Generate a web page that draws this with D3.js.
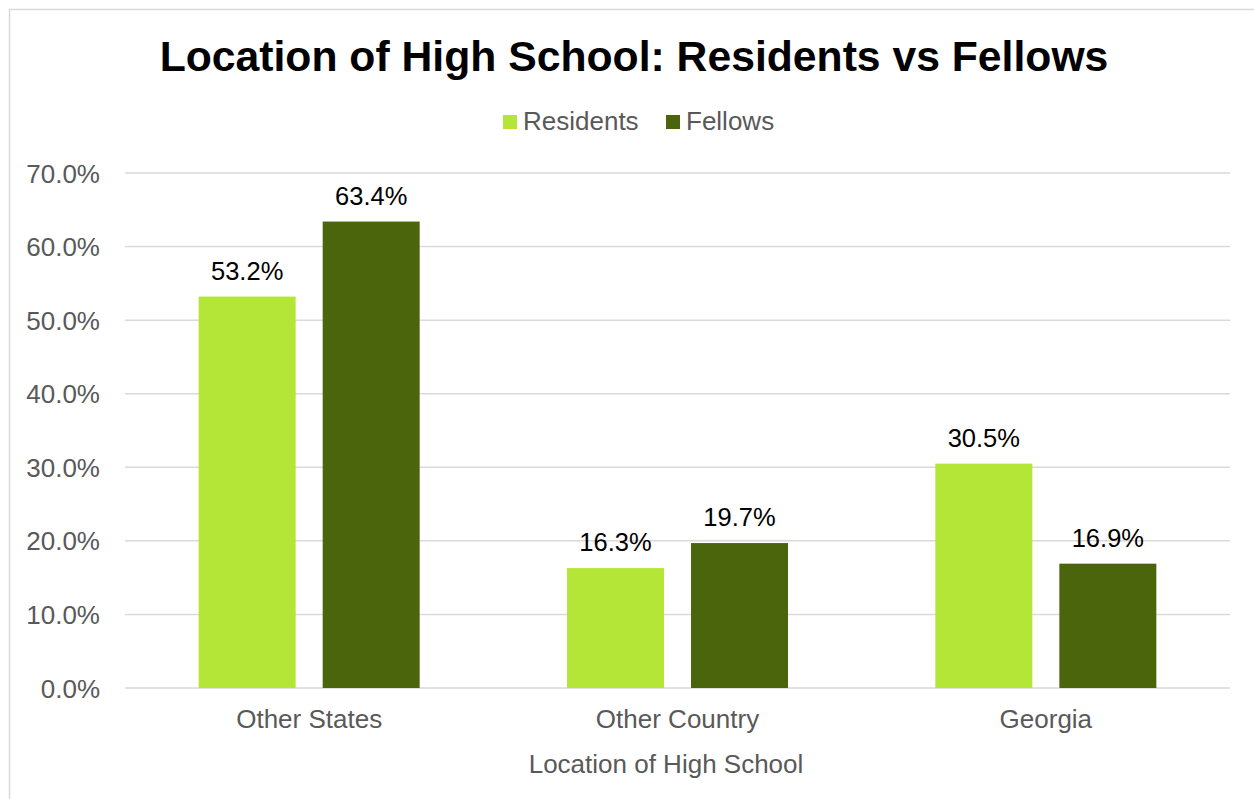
<!DOCTYPE html>
<html lang="en">
    <head>
        <meta charset="utf-8">
        <title>Location of High School: Residents vs Fellows</title>
        <script src="https://d3js.org/d3.v7.min.js"></script>
        <style type="text/css">
            body {
                margin: 0;
                background: white;
            }
            text {
                font-family: "Liberation Sans", Arial, sans-serif;
            }
            .tick text {
                font-size: 26px;
                fill: #595959;
            }
        </style>
    </head>
    <body>
        <svg width="1254" height="799"></svg>
        <script type="text/javascript">

            const categories = ["Other States", "Other Country", "Georgia"];
            const seriesNames = ["Residents", "Fellows"];
            const residents = [53.2, 16.3, 30.5];
            const fellows = [63.4, 19.7, 16.9];
            const yTicks = [0, 10, 20, 30, 40, 50, 60, 70];

            const colors = {Residents: "#b3e636", Fellows: "#4a650b"};

            const svg = d3.select("svg");

            // chart frame
            svg.append("rect")
               .attr("x", 9.5).attr("y", 9.5)
               .attr("width", 1260).attr("height", 800)
               .attr("fill", "white")
               .attr("stroke", "#d9d9d9")
               .attr("stroke-width", 1.5);

            const plotLeft = 125, plotRight = 1230, plotTop = 173, plotBottom = 688;

            const x0 = d3.scaleBand()
                         .domain(categories)
                         .range([plotLeft, plotRight])
                         .padding(0);

            const x1 = d3.scaleBand()
                         .domain(seriesNames)
                         .range([x0.bandwidth() * 0.2, x0.bandwidth() * 0.8])
                         .paddingInner(0.218);

            const y = d3.scaleLinear()
                        .domain([0, 70])
                        .range([plotBottom, plotTop]);

            // gridlines
            svg.append("g")
               .selectAll("line")
               .data(yTicks)
               .enter()
               .append("line")
               .attr("x1", plotLeft).attr("x2", plotRight)
               .attr("y1", d => y(d)).attr("y2", d => y(d))
               .attr("stroke", "#d9d9d9")
               .attr("stroke-width", 1.5);

            // y axis labels
            const yAxis = svg.append("g")
               .attr("transform", `translate(${plotLeft - 10},0)`)
               .call(d3.axisLeft(y).tickValues(yTicks).tickSize(0).tickPadding(15)
                     .tickFormat(d => d.toFixed(1) + "%"));
            yAxis.select(".domain").remove();
            yAxis.selectAll(".tick text").attr("dy", "0.35em");

            // x axis labels
            const xAxis = svg.append("g")
               .attr("transform", `translate(0,${plotBottom})`)
               .call(d3.axisBottom(x0).tickSize(0).tickPadding(22));
            xAxis.select(".domain").remove();

            const rows = categories.map((c, i) => ({
                cat: c,
                vals: [{s: "Residents", v: residents[i]}, {s: "Fellows", v: fellows[i]}]
            }));

            const groups = svg.append("g")
               .selectAll("g")
               .data(rows)
               .enter()
               .append("g")
               .attr("transform", d => `translate(${x0(d.cat)},0)`);

            groups.selectAll("rect")
                  .data(d => d.vals)
                  .enter()
                  .append("rect")
                  .attr("x", d => x1(d.s))
                  .attr("width", x1.bandwidth())
                  .attr("y", d => y(d.v))
                  .attr("height", d => y(0) - y(d.v))
                  .attr("fill", d => colors[d.s]);

            groups.selectAll("text.val")
                  .data(d => d.vals)
                  .enter()
                  .append("text")
                  .attr("class", "val")
                  .attr("x", d => x1(d.s) + x1.bandwidth() / 2)
                  .attr("y", d => y(d.v) - 17)
                  .attr("text-anchor", "middle")
                  .style("font-size", "25.5px")
                  .style("fill", "black")
                  .text(d => d.v.toFixed(1) + "%");

            // title
            svg.append("text")
               .attr("x", 634).attr("y", 71)
               .attr("text-anchor", "middle")
               .style("font-size", "42.7px")
               .style("font-weight", "bold")
               .style("fill", "black")
               .text("Location of High School: Residents vs Fellows");

            // legend
            const legendX = [503, 666];
            const legend = svg.append("g")
               .selectAll("g")
               .data(seriesNames)
               .enter()
               .append("g")
               .attr("transform", (d, i) => `translate(${legendX[i]},115)`);
            legend.append("rect")
                  .attr("width", 14).attr("height", 14)
                  .attr("fill", d => colors[d]);
            legend.append("text")
                  .attr("x", 20).attr("y", 15)
                  .style("font-size", "26px")
                  .style("fill", "#595959")
                  .text(d => d);

            // axis title
            svg.append("text")
               .attr("x", 666).attr("y", 773)
               .attr("text-anchor", "middle")
               .style("font-size", "26px")
               .style("fill", "#595959")
               .text("Location of High School");

        </script>
    </body>
</html>
